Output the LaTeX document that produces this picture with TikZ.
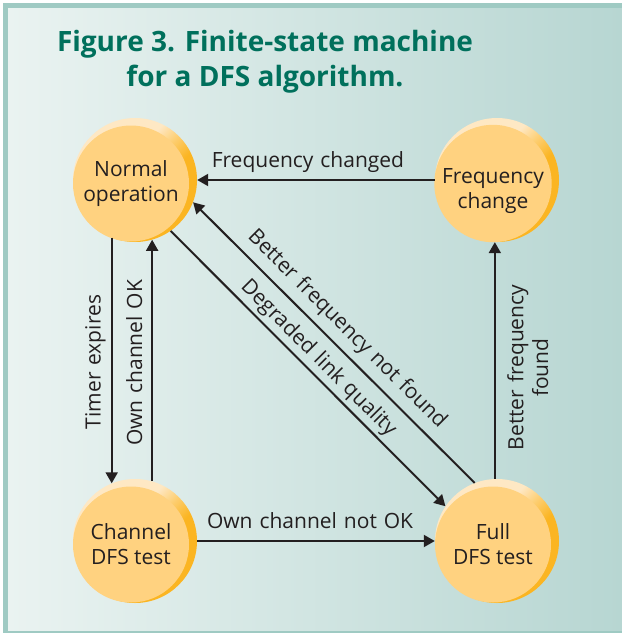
\documentclass[tikz,border=0pt]{standalone}
\usepackage{fontspec}
\setmainfont{Open Sans}
\usetikzlibrary{arrows.meta,calc}
\definecolor{ink}{RGB}{35,31,32}
\definecolor{titlec}{RGB}{0,112,92}
\definecolor{band}{RGB}{159,202,195}
\definecolor{bgL}{RGB}{234,243,241}
\definecolor{bgR}{RGB}{183,214,210}
\definecolor{discfill}{RGB}{255,210,128}
\definecolor{cream}{RGB}{254,232,196}
\definecolor{midamb}{RGB}{253,205,110}
\definecolor{amber}{RGB}{251,181,34}
\pgfdeclareverticalshading{discshade}{100bp}{color(0bp)=(amber); color(42bp)=(amber); color(50bp)=(midamb); color(58bp)=(cream); color(100bp)=(cream)}
\tikzset{
  outerdisc/.style={circle, minimum size=124pt, inner sep=0pt, shade, shading=discshade, shading angle=45},
  statedisc/.style={circle, minimum size=116pt, inner sep=0pt, fill=discfill, align=center, text=ink,
    font=\fontsize{21}{24.8}\selectfont},
  conn/.style={line width=2pt, draw=ink, -{Triangle[length=11pt,width=12pt]}},
  lbl/.style={text=ink, font=\fontsize{21}{24.8}\selectfont, inner sep=0pt, align=center,
    execute at begin node={\spaceskip=0.33em\relax}},
  titletext/.style={text=titlec, font=\fontsize{28}{35}\selectfont\bfseries, align=center, inner sep=0pt}
}
\begin{document}
\begin{tikzpicture}[x=1pt,y=-1pt]
\useasboundingbox (0,0) rectangle (622,633);
\fill[white] (0,0) rectangle (622,633);
\fill[band] (3,3) rectangle (622,633);
\shade[left color=bgL,right color=bgR] (8,8) rectangle (622,630);
\node[titletext] (title) at (265,62) {Figure 3. Finite-state machine\\for a DFS algorithm.};

\node[outerdisc] (normal) at (135,180) {};
\node[statedisc] (normal-t) at ($(normal)+(-4,3.5)$) {Normal\\operation};
\node[outerdisc] (freq) at (497,180) {};
\node[statedisc] (freq-t) at ($(freq)+(-4,3.5)$) {\rule{0pt}{29.5pt}Frequency\\change};
\node[outerdisc] (chan) at (135,541) {};
\node[statedisc] (chan-t) at ($(chan)+(-4,3.5)$) {Channel\\DFS test};
\node[outerdisc] (full) at (497,541) {};
\node[statedisc] (full-t) at ($(full)+(-4,3.5)$) {Full\\DFS test};

\draw[conn] (freq.west) -- node[lbl, pos=0.534, anchor=base, yshift=13pt] {Frequency changed} (normal.east);
\draw[conn] (normal.-112) -- node[lbl, pos=0.506, rotate=90, anchor=base, yshift=11pt] {Timer expires} (chan.112);
\draw[conn] (chan.74) -- node[lbl, pos=0.49, rotate=90, anchor=base, yshift=10pt] {Own channel OK} (normal.-74);
\draw[conn] (chan.east) -- node[lbl, pos=0.475, anchor=base, yshift=13pt] {Own channel not OK} (full.west);
\draw[conn] (full.92) -- node[lbl, pos=0.47, rotate=90, anchor=center, yshift=-33pt] {Better frequency\\found} (freq.-92);
\draw[conn] (normal.-55.5) -- node[lbl, midway, sloped, anchor=base, yshift=9pt] {Degraded link quality} (full.146);
\draw[conn] (full.111) -- node[lbl, midway, sloped, anchor=base, yshift=13pt] {Better frequency not found} (normal.-21);
\end{tikzpicture}
\end{document}
